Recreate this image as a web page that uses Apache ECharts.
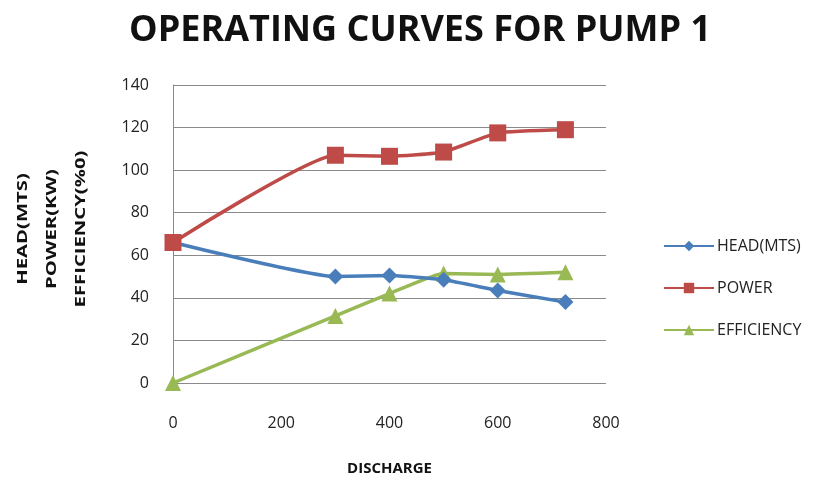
<!DOCTYPE html>
<html>
<head>
<meta charset="utf-8">
<script src="https://cdn.jsdelivr.net/npm/echarts@6/dist/echarts.min.js"></script>
<style>
  html, body { margin: 0; padding: 0; background: #fff; }
  #chart { width: 826px; height: 485px; }
</style>
</head>
<body>
<div id="chart"></div>
<script>
// Pump 1 test readings
const discharge  = [0, 300, 400, 500, 600, 725];
const headMts    = [66, 50, 50.5, 48.5, 43.5, 38];
const powerKw    = [66, 107, 106.5, 108.5, 117.5, 119];
const efficiency = [0, 31.5, 42, 51.5, 51, 52];

const xTicks = [0, 200, 400, 600, 800];
const yTicks = [0, 20, 40, 60, 80, 100, 120, 140];

const font = '"Open Sans", "DejaVu Sans", sans-serif';

function pairs(xs, ys) { return xs.map((x, i) => [x, ys[i]]); }

const chart = echarts.init(document.getElementById('chart'));
chart.setOption({
  animation: false,
  backgroundColor: '#ffffff',
  title: {
    text: 'OPERATING CURVES FOR PUMP 1',
    left: 415, top: 8, textAlign: 'center',
    textStyle: { fontFamily: font, fontWeight: 'bold', fontSize: 36, color: '#111' }
  },
  grid: { left: 173, right: 220, top: 85, bottom: 102 },
  legend: {
    orient: 'vertical', left: 658, top: 233, itemGap: 26,
    itemWidth: 50, itemHeight: 13,
    textStyle: { fontFamily: font, fontSize: 16, color: '#222', padding: [0, 0, 0, -2] },
    data: ['HEAD(MTS)', 'POWER', 'EFFICIENCY']
  },
  xAxis: {
    type: 'value', min: xTicks[0], max: xTicks[xTicks.length - 1], interval: 200,
    name: 'DISCHARGE', nameLocation: 'middle', nameGap: 78,
    nameTextStyle: { fontFamily: font, fontWeight: 'bold', fontSize: 15, color: '#111' },
    axisLine: { show: false },
    axisTick: { show: false },
    splitLine: { show: false },
    axisLabel: { fontFamily: font, fontSize: 16, color: '#222', margin: 32 }
  },
  yAxis: {
    type: 'value', min: yTicks[0], max: yTicks[yTicks.length - 1], interval: 20,
    axisLine: { show: true, lineStyle: { color: '#8a8a8a', width: 1 } },
    axisTick: { show: false },
    splitLine: { show: true, lineStyle: { color: '#8a8a8a', width: 1 } },
    axisLabel: { fontFamily: font, fontSize: 16, color: '#222', margin: 24 }
  },
  graphic: [{
    type: 'text', x: 52, y: 229, rotation: Math.PI / 2, scaleX: 1.35,
    style: {
      text: 'HEAD(MTS)\nPOWER(KW)\nEFFICIENCY(%0)',
      fontFamily: font, fontWeight: 'bold', fontSize: 15, fill: '#111',
      align: 'center', verticalAlign: 'middle', lineHeight: 29
    }
  }],
  series: [
    {
      name: 'HEAD(MTS)', type: 'line', smooth: 0.15,
      data: pairs(discharge, headMts),
      symbol: 'diamond', symbolSize: 16,
      lineStyle: { width: 3.5, color: '#4A7EBB' },
      itemStyle: { color: '#4A7EBB' }, z: 3
    },
    {
      name: 'POWER', type: 'line', smooth: 0.15,
      data: pairs(discharge, powerKw),
      symbol: 'rect', symbolSize: 17,
      lineStyle: { width: 3.5, color: '#BE4B48' },
      itemStyle: { color: '#BE4B48' }, z: 4
    },
    {
      name: 'EFFICIENCY', type: 'line', smooth: 0.15,
      data: pairs(discharge, efficiency),
      symbol: 'triangle', symbolSize: 16,
      lineStyle: { width: 3.5, color: '#98B954' },
      itemStyle: { color: '#98B954' }, z: 2
    }
  ]
});
</script>
</body>
</html>
